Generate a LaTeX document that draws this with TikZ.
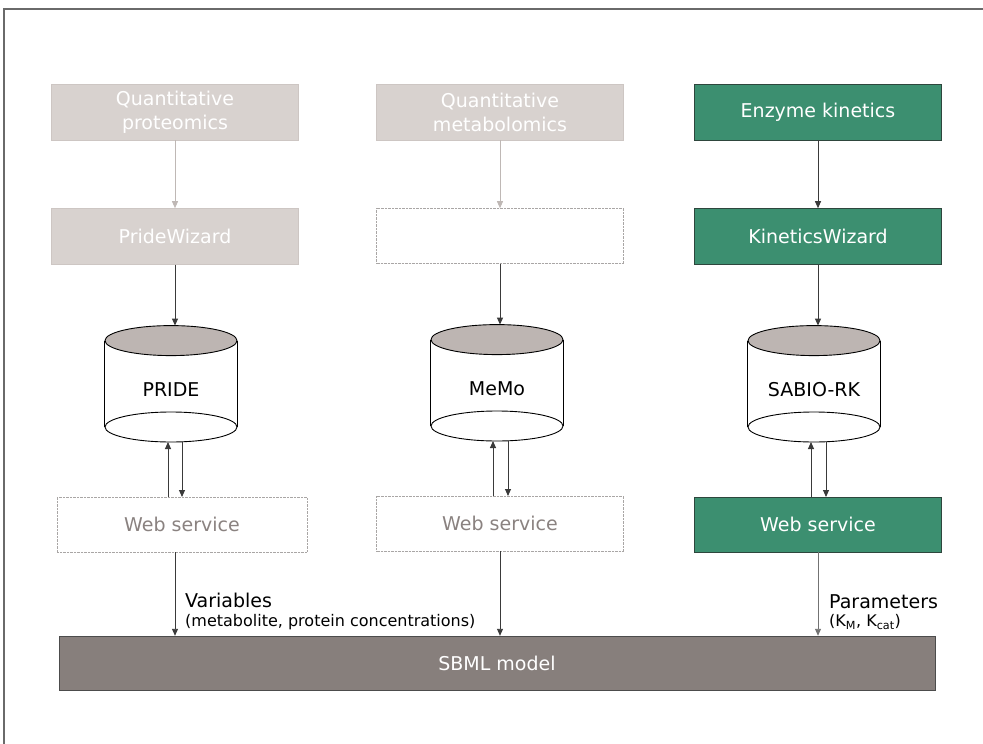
\documentclass[tikz,border=0pt]{standalone}
\usepackage{fontspec}
\setmainfont{DejaVu Sans}
\usepackage{xcolor}
\usepackage{tikz}
\usetikzlibrary{positioning,arrows.meta}

\definecolor{paleBox}{HTML}{D8D2CF}
\definecolor{paleEdge}{HTML}{CDC6C3}
\definecolor{paleArrow}{HTML}{BFB8B5}
\definecolor{kinGreen}{HTML}{3C8F70}
\definecolor{greenEdge}{HTML}{2E463D}
\definecolor{ghostEdge}{HTML}{A9A6A5}
\definecolor{ghostText}{HTML}{8A8280}
\definecolor{dbTop}{HTML}{BDB5B2}
\definecolor{sbmlFill}{HTML}{877F7C}
\definecolor{arrowDark}{HTML}{3A3A3A}
\definecolor{frameGray}{HTML}{6A6A6A}

% database drawn round a named node
\newcommand{\drawdb}[1]{%
  \draw[dbline] ([yshift=-15pt]#1.north west) -- ([yshift=15pt]#1.south west)
                ([yshift=-15pt]#1.north east) -- ([yshift=15pt]#1.south east);
  \draw[dbline, fill=white] ([yshift=15pt]#1.south) ellipse [x radius=66pt, y radius=15pt];
  \draw[dbline, fill=dbTop] ([yshift=-15pt]#1.north) ellipse [x radius=66pt, y radius=15pt];
}

\begin{document}
\begin{tikzpicture}[
  x=1pt, y=-1pt,
  node distance=68pt,
  box/.style={rectangle, draw=paleEdge, fill=paleBox, text=white, minimum width=247pt, minimum height=56pt, inner sep=0pt, align=center, font=\fontsize{19}{24}\selectfont},
  greenbox/.style={box, draw=greenEdge, fill=kinGreen},
  ghostbox/.style={box, draw=ghostEdge, densely dotted, fill=white, text=ghostText},
  db/.style={rectangle, minimum width=132pt, minimum height=116pt, inner sep=0pt, text height=26pt, text depth=0pt, font=\fontsize{19}{24}\selectfont},
  dbline/.style={draw=black, line width=0.9pt},
  arrow/.style={->, >={Triangle[length=7pt,width=6pt]}, draw=arrowDark, line width=0.9pt},
  palearrow/.style={arrow, draw=paleArrow},
  lbl/.style={align=left, inner sep=0pt, text=black},
]
  \useasboundingbox (0,0) rectangle (983,744);
  \draw[frameGray, line width=1.5pt] (983,9) -- (4,9) -- (4,744);

  % proteomics
  \node[box] (quantprot) at (175,112) {Quantitative\\proteomics};
  \node[box, below=of quantprot] (pridewiz) {PrideWizard};
  \node[db, below=61pt of pridewiz, xshift=-4pt] (pride) {PRIDE};
  \node[ghostbox, below=55pt of pride, xshift=11pt, minimum width=250pt, minimum height=55pt] (wsprot) {Web service};

  % metabolomics
  \node[box] (quantmet) at (500,112) {Quantitative\\metabolomics};
  \node[ghostbox, below=of quantmet, minimum height=55pt] (metwiz) {};
  \node[db, below=61pt of metwiz, xshift=-3pt] (memo) {MeMo};
  \node[ghostbox, below=55pt of memo, xshift=3pt, minimum height=55pt] (wsmet) {Web service};

  % kinetics
  \node[greenbox] (enzkin) at (818,112) {Enzyme kinetics};
  \node[greenbox, below=of enzkin] (kinwiz) {KineticsWizard};
  \node[db, below=61pt of kinwiz, xshift=-4pt] (sabio) {SABIO-RK};
  \node[greenbox, below=55pt of sabio, xshift=4pt, minimum height=55pt] (wskin) {Web service};

  \node[box, draw=black!70, fill=sbmlFill, minimum width=876pt, minimum height=54pt] (sbml) at (497,663) {SBML model};

  \drawdb{pride}
  \drawdb{memo}
  \drawdb{sabio}

  \draw[palearrow] (quantprot) -- (pridewiz);
  \draw[arrow] (pridewiz) -- ([xshift=4pt]pride.north);
  \draw[arrow] ([xshift=-3pt]pride.south |- wsprot.north) -- ([xshift=-3pt]pride.south);
  \draw[arrow] ([xshift=11pt]pride.south) -- ([xshift=11pt]pride.south |- wsprot.north);
  \draw[arrow] ([xshift=-7pt]wsprot.south) -- ([xshift=-7pt]wsprot.south |- sbml.north);

  \draw[palearrow] (quantmet) -- (metwiz);
  \draw[arrow] (metwiz) -- ([xshift=3pt]memo.north);
  \draw[arrow] ([xshift=-4pt]memo.south |- wsmet.north) -- ([xshift=-4pt]memo.south);
  \draw[arrow] ([xshift=11pt]memo.south) -- ([xshift=11pt]memo.south |- wsmet.north);
  \draw[arrow] (wsmet) -- (wsmet.south |- sbml.north);

  \draw[arrow] (enzkin) -- (kinwiz);
  \draw[arrow] (kinwiz) -- ([xshift=4pt]sabio.north);
  \draw[arrow] ([xshift=-3pt]sabio.south |- wskin.north) -- ([xshift=-3pt]sabio.south);
  \draw[arrow] ([xshift=12pt]sabio.south) -- ([xshift=12pt]sabio.south |- wskin.north);
  \draw[arrow, draw=black!55] (wskin) -- (wskin.south |- sbml.north);

  \node[lbl, anchor=south west] (varlbl) at ([xshift=3pt,yshift=6pt]wsprot.south |- sbml.north)
    {{\fontsize{19}{22}\selectfont Variables}\\[5pt]{\fontsize{16}{19}\selectfont (metabolite, protein concentrations)}};
  \node[lbl, anchor=south west] (parlbl) at ([xshift=11pt,yshift=6pt]wskin.south |- sbml.north)
    {{\fontsize{19}{22}\selectfont Parameters}\\[5pt]{\fontsize{16}{19}\selectfont (K\textsubscript{M}, K\textsubscript{cat})}};
\end{tikzpicture}
\end{document}
